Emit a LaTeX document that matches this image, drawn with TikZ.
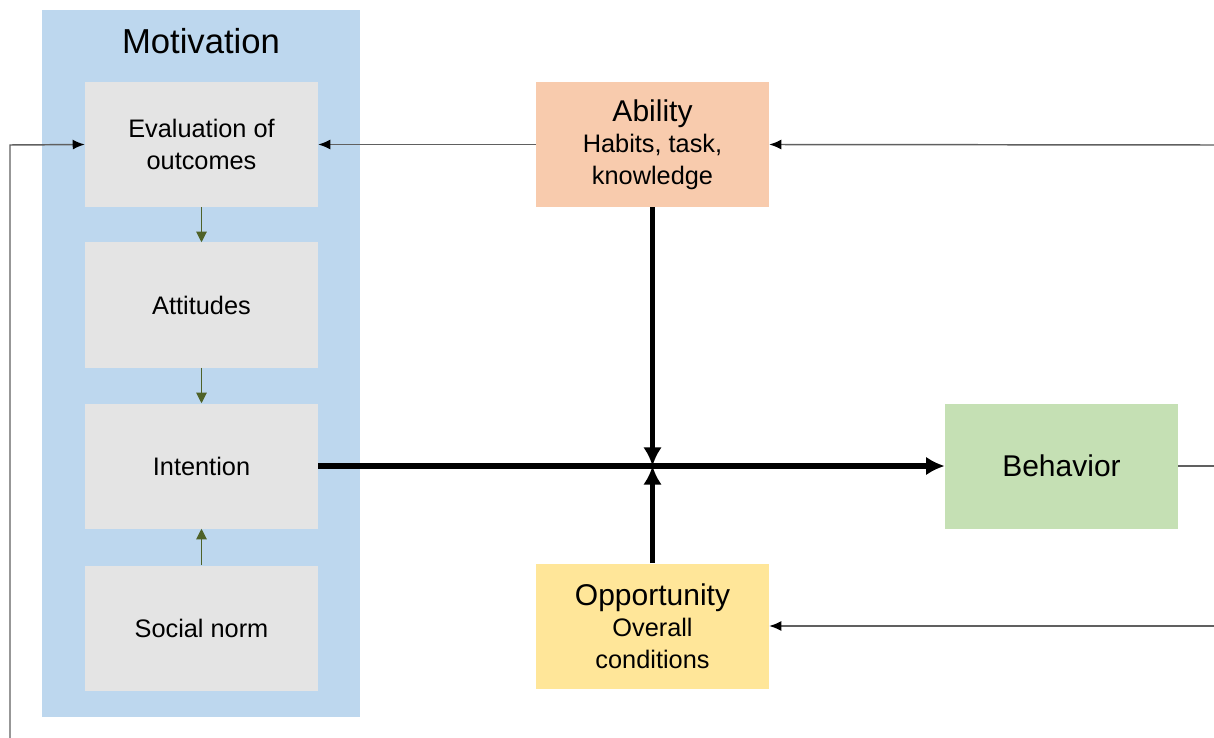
\documentclass[tikz,border=0pt]{standalone}
\usepackage{fontspec}
\setmainfont{Liberation Sans}
\usetikzlibrary{arrows.meta}
\definecolor{panelblue}{HTML}{BDD7EE}
\definecolor{boxgray}{HTML}{E4E4E4}
\definecolor{ablpeach}{HTML}{F8CBAD}
\definecolor{oppyellow}{HTML}{FFE699}
\definecolor{behgreen}{HTML}{C5E0B4}
\definecolor{olive}{HTML}{4F6228}
\definecolor{thinline}{HTML}{606060}
\begin{document}
\begin{tikzpicture}[x=0.75pt,y=-0.75pt,
  box/.style={minimum width=233*0.75pt,minimum height=125*0.75pt,inner sep=0pt,align=center,font=\fontsize{19}{23.5}\selectfont},
  graybox/.style={box,fill=boxgray},
  bigtitle/.style={font=\fontsize{26}{28}\selectfont},
  thin/.style={draw=thinline,line width=1.1pt,-{Latex[length=9pt,width=7.5pt,color=black]}},
  thick/.style={draw=black,line width=3.8pt,-{Latex[length=14pt,width=14pt]}},
  small/.style={draw=olive,line width=0.8pt,-{Triangle[length=8pt,width=8pt]}}]
\useasboundingbox (0,0) rectangle (1214,738);
% motivation panel
\fill[panelblue] (42,10) rectangle (360,717);
\node[bigtitle] (mot) at (201,41) {Motivation};
\node[graybox] (eval) at (201.5,144.5) {Evaluation of\\outcomes};
\node[graybox] (att) at (201.5,305) {Attitudes};
\node[graybox] (int) at (201.5,466) {Intention};
\node[graybox] (soc) at (201.5,628) {Social norm};
% factors
\node[box,fill=ablpeach] (abl) at (652.5,144.5) {\fontsize{22.5}{26}\selectfont Ability\\[0pt]Habits, task,\\knowledge};
\node[box,fill=oppyellow] (opp) at (652.5,626) {\fontsize{22.5}{26}\selectfont Opportunity\\[0pt]Overall\\conditions};
\node[box,fill=behgreen,font=\fontsize{22.5}{26}\selectfont] (beh) at (1061.5,466) {Behavior};
% helper points
\coordinate (cross) at (652.5,466);
\coordinate (lbot) at (10,738);
\coordinate (ltop) at (10,145);
\coordinate (rabl) at (1214,145);
\coordinate (ropp) at (1214,626);
\coordinate (rbeh) at (1214,466);
% motivation chain
\draw[small] (eval.south) -- (att.north);
\draw[small] (att.south) -- (int.north);
\draw[small] (soc.north) -- (int.south);
% main flow
\draw[thick] (int.east) -- (beh.west);
\draw[thick] (abl.south) -- (cross);
\draw[thick] (opp.north) -- (cross);
% feedback lines
\draw[thin] (abl.west) -- (eval.east);
\draw[thin] (rabl) -- (abl.east);
\draw[thin] (ropp) -- (opp.east);
\draw[thin] (lbot) -- (ltop) -- (eval.west);
\draw[draw=thinline,line width=1.1pt] (beh.east) -- (rbeh);
\end{tikzpicture}
\end{document}
